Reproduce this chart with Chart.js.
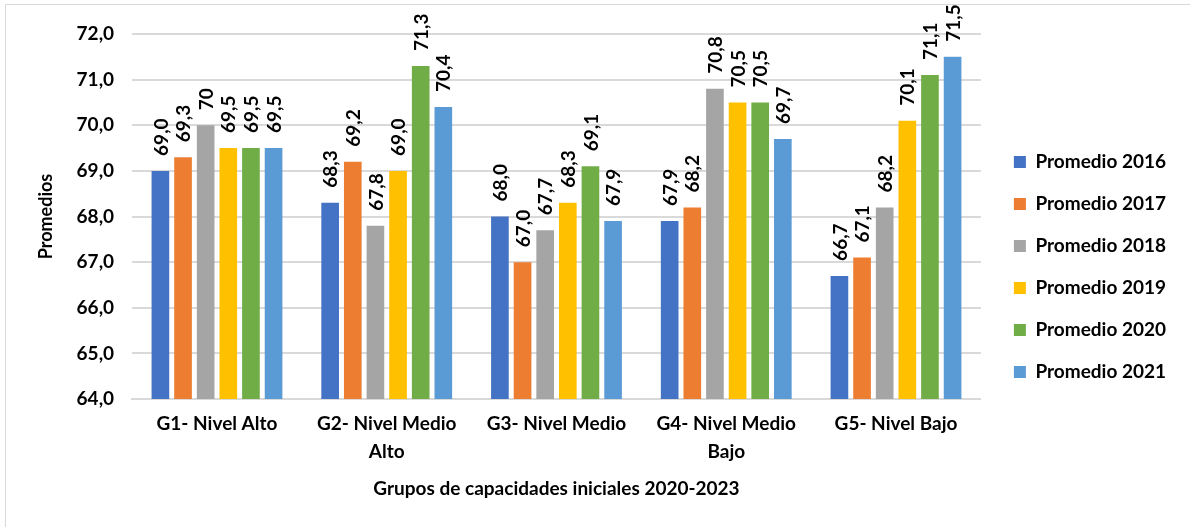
<!DOCTYPE html>
<html>
<head>
<meta charset="utf-8">
<script src="https://cdn.jsdelivr.net/npm/chart.js@4"></script>
<style>
  html, body { margin: 0; padding: 0; background: #fff; overflow: hidden; }
  #frame { position: absolute; left: 5px; top: 4px; width: 1200px; height: 540px; border-left: 1px solid #d9d9d9; border-top: 1px solid #d9d9d9; }
  #wrap { position: absolute; left: 0; top: 0; width: 1190px; height: 527px; }
</style>
</head>
<body>
<div id="frame"></div>
<div id="wrap"><canvas id="grafico" width="1190" height="527"></canvas></div>
<script>
// datos
const grupos = [['G1- Nivel Alto'], ['G2- Nivel Medio', 'Alto'], ['G3- Nivel Medio'], ['G4- Nivel Medio', 'Bajo'], ['G5- Nivel Bajo']];
const series = ['Promedio 2016', 'Promedio 2017', 'Promedio 2018', 'Promedio 2019', 'Promedio 2020', 'Promedio 2021'];
const p2016 = [69.0, 68.3, 68.0, 67.9, 66.7];
const p2017 = [69.3, 69.2, 67.0, 68.2, 67.1];
const p2018 = [70.0, 67.8, 67.7, 70.8, 68.2];
const p2019 = [69.5, 69.0, 68.3, 70.5, 70.1];
const p2020 = [69.5, 71.3, 69.1, 70.5, 71.1];
const p2021 = [69.5, 70.4, 67.9, 69.7, 71.5];
// etiquetas tal como aparecen (una sale sin decimal)
const etiquetas2018 = ['70', '67,8', '67,7', '70,8', '68,2'];
const colores = ['#4472c4', '#ed7d31', '#a5a5a5', '#ffc000', '#70ad47', '#5b9bd5'];

const fuente = 'Lato, "Open Sans", sans-serif';
const valores = [p2016, p2017, p2018, p2019, p2020, p2021];

const datasets = series.map((nombre, i) => ({
    label: nombre,
    data: valores[i],
    backgroundColor: colores[i],
    borderWidth: 0,
    categoryPercentage: 0.8,
    barPercentage: 0.78
}));

function textoEtiqueta(di, j) {
    if (di === 2) return etiquetas2018[j];
    return valores[di][j].toFixed(1).replace('.', ',');
}

// etiquetas de valor giradas encima de cada barra
const etiquetasBarras = {
    id: 'etiquetasBarras',
    afterDatasetsDraw(chart) {
        const ctx = chart.ctx;
        ctx.save();
        ctx.font = 'bold 19px ' + fuente;
        ctx.fillStyle = '#000';
        ctx.textAlign = 'left';
        ctx.textBaseline = 'middle';
        chart.data.datasets.forEach((ds, di) => {
            chart.getDatasetMeta(di).data.forEach((bar, j) => {
                ctx.save();
                ctx.translate(bar.x + 1, bar.y - 15);
                ctx.rotate(-Math.PI / 2);
                ctx.fillText(textoEtiqueta(di, j), 0, 0);
                ctx.restore();
            });
        });
        ctx.restore();
    }
};

new Chart(document.getElementById('grafico').getContext('2d'), {
    type: 'bar',
    data: { labels: grupos, datasets: datasets },
    options: {
        responsive: false,
        animation: false,
        layout: { padding: { left: 31, right: 14, top: 34, bottom: 27 } },
        plugins: {
            tooltip: { enabled: false },
            legend: {
                position: 'right',
                labels: {
                    boxWidth: 12,
                    boxHeight: 12,
                    padding: 23,
                    color: '#000',
                    font: { family: fuente, size: 19, weight: 'bold' }
                }
            }
        },
        scales: {
            x: {
                grid: { display: false },
                border: { color: '#d9d9d9', width: 2 },
                ticks: { color: '#000', padding: 3, font: { family: fuente, size: 19, weight: 'bold', lineHeight: 1.45 } },
                title: {
                    display: true,
                    text: 'Grupos de capacidades iniciales 2020-2023',
                    color: '#000',
                    padding: { top: 9, bottom: 0 },
                    font: { family: fuente, size: 19, weight: 'bold' }
                }
            },
            y: {
                min: 64,
                max: 72,
                ticks: {
                    stepSize: 1,
                    color: '#000',
                    padding: 18,
                    font: { family: fuente, size: 19, weight: 'bold' },
                    callback: v => v.toFixed(1).replace('.', ',')
                },
                grid: { color: '#d9d9d9', lineWidth: 2, drawTicks: false },
                border: { display: false },
                title: {
                    display: true,
                    text: 'Promedios',
                    color: '#000',
                    padding: { bottom: 2 },
                    font: { family: fuente, size: 18, weight: 'bold' }
                }
            },
            // espacio vacio entre el area del grafico y la leyenda
            hueco: {
                type: 'linear',
                position: 'right',
                display: true,
                grid: { display: false },
                border: { display: false },
                ticks: { display: false },
                afterFit: s => { s.width = 10; }
            }
        }
    },
    plugins: [etiquetasBarras]
});
</script>
</body>
</html>
